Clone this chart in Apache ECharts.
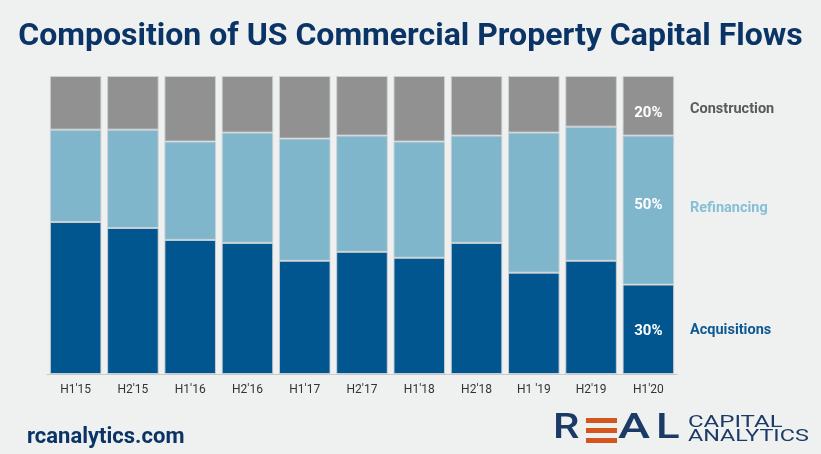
<!DOCTYPE html>
<html>
<head>
<meta charset="utf-8">
<script src="https://cdn.jsdelivr.net/npm/echarts@6/dist/echarts.min.js"></script>
<style>
  html, body { margin: 0; padding: 0; background: #eff0f0; }
  #chart { width: 821px; height: 454px; }
</style>
</head>
<body>
<div id="chart"></div>
<script>
var categories = ["H1'15", "H2'15", "H1'16", "H2'16", "H1'17", "H2'17", "H1'18", "H2'18", "H1 '19", "H2'19", "H1'20"];
var acquisitions = [51, 49, 45, 44, 38, 41, 39, 44, 34, 38, 30];
var refinancing  = [31, 33, 33, 37, 41, 39, 39, 36, 47, 45, 50];
var construction = [18, 18, 22, 19, 21, 20, 22, 20, 19, 17, 20];
var seriesNames = ['Acquisitions', 'Refinancing', 'Construction'];

var colors = ['#02568f', '#7fb6cc', '#919191'];
var labelColors = ['#0d5a93', '#86bfd6', '#5a5a5a'];
var labelOffsets = [[0, 2], [0, -5], [0, 7]];
var lastIdx = categories.length - 1;

var chart = echarts.init(document.getElementById('chart'));

function mkSeries(i, data) {
  return {
    name: seriesNames[i],
    type: 'bar',
    stack: 'total',
    data: data,
    barCategoryGap: '10%',
    itemStyle: { color: colors[i], borderColor: 'rgba(205,209,212,0.9)', borderWidth: 1 },
    label: {
      show: true,
      position: 'inside',
      offset: labelOffsets[i],
      color: '#ffffff',
      fontFamily: 'Roboto',
      fontWeight: 'bold',
      fontSize: 15,
      formatter: function (p) { return p.dataIndex === lastIdx ? p.value + '%' : ''; }
    },
    emphasis: { disabled: true }
  };
}

chart.setOption({
  backgroundColor: '#eff0f0',
  animation: false,
  title: {
    text: 'Composition of US Commercial Property Capital Flows',
    left: 'center',
    top: 16,
    textStyle: { color: '#0b3466', fontFamily: 'Roboto', fontWeight: 'bold', fontSize: 32 }
  },
  grid: { left: 47, right: 144, top: 76, bottom: 80 },
  xAxis: {
    type: 'category',
    data: categories,
    axisLine: { lineStyle: { color: '#c8cacc', width: 1 } },
    axisTick: { show: false },
    axisLabel: { color: '#333333', fontSize: 12, fontFamily: 'Roboto', margin: 10 }
  },
  yAxis: { type: 'value', min: 0, max: 100, show: false, splitLine: { show: false } },
  series: [
    mkSeries(0, acquisitions),
    mkSeries(1, refinancing),
    mkSeries(2, construction)
  ]
});

// series name labels to the right of the last bar
var nameY = [330, 208, 109];
var gfx = [];
for (var k = 0; k < 3; k++) {
  gfx.push({
    type: 'text', x: 690, y: nameY[k],
    style: { text: seriesNames[k], fill: labelColors[k], font: 'bold 14.5px Roboto', verticalAlign: 'middle' }
  });
}
// footer
gfx.push({ type: 'text', x: 27, y: 437, style: { text: 'rcanalytics.com', fill: '#0b3466', font: 'bold 22px Roboto', verticalAlign: 'middle' } });
// logo
function logoText(txt, x, y, size, weight, sx) {
  return { type: 'text', x: x, y: y, scaleX: sx, scaleY: 1, originX: 0, originY: 0,
    style: { text: txt, x: 0, y: 0, fill: '#1c3a66', font: weight + ' ' + size + 'px Roboto', verticalAlign: 'top' } };
}
gfx.push(logoText('R', 553, 412, 35, 500, 1.2));
gfx.push({ type: 'rect', shape: { x: 586, y: 418, width: 31, height: 5 }, style: { fill: '#d4561f' } });
gfx.push({ type: 'rect', shape: { x: 586, y: 428, width: 31, height: 5 }, style: { fill: '#d4561f' } });
gfx.push({ type: 'rect', shape: { x: 586, y: 438, width: 31, height: 5 }, style: { fill: '#d4561f' } });
gfx.push(logoText('A', 618, 412, 35, 500, 1.38));
gfx.push(logoText('L', 656, 412, 35, 500, 1.25));
gfx.push(logoText('CAPITAL', 688, 415, 16, 400, 1.5));
gfx.push(logoText('ANALYTICS', 688, 429, 16, 400, 1.46));

chart.setOption({ graphic: gfx });
</script>
</body>
</html>
